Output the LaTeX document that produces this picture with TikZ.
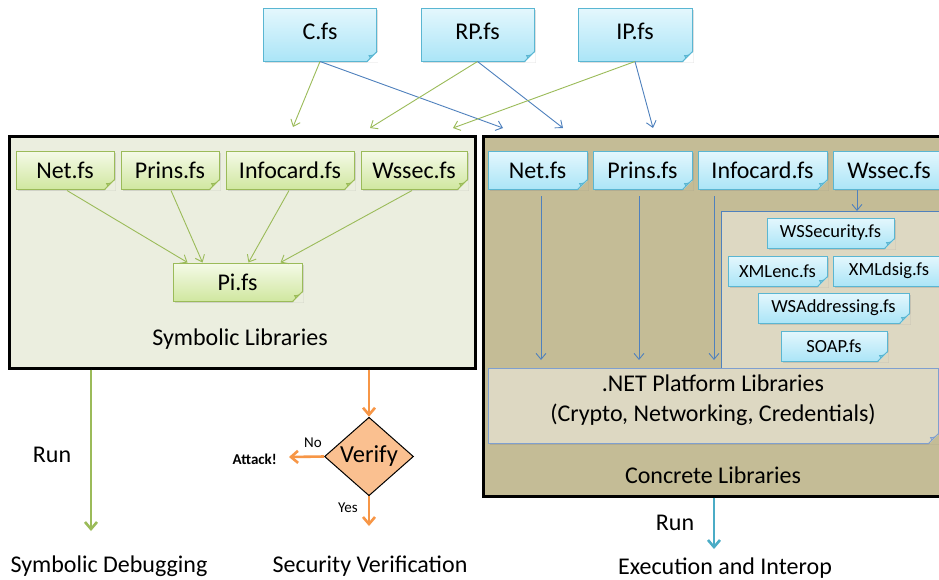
\documentclass[tikz,border=0pt]{standalone}
\usepackage{fontspec}
\setmainfont{Carlito}
\usetikzlibrary{shapes.geometric,arrows.meta,calc,shadows}
\definecolor{gline}{HTML}{9BBB59}
\definecolor{bline}{HTML}{4F81BD}
\definecolor{oline}{HTML}{F79646}
\definecolor{tline}{HTML}{4BACC6}
\definecolor{cyanborder}{HTML}{5AB6D2}
\definecolor{cyantop}{HTML}{E4F7FD}
\definecolor{cyanbot}{HTML}{ABE5F7}
\definecolor{cyanfold}{HTML}{7FC8DD}
\definecolor{greentop}{HTML}{F5FAE8}
\definecolor{greenbot}{HTML}{D0E7A0}
\definecolor{greenfold}{HTML}{ADCC6E}
\definecolor{lgreenbg}{HTML}{EBEEDF}
\definecolor{tanbg}{HTML}{C4BC96}
\definecolor{ltanbg}{HTML}{DDD8C2}
\definecolor{dnborder}{HTML}{7F9FCF}
\definecolor{difill}{HTML}{FAC090}
\newcommand\dogear[4]{%
  \fill[#2] ($(#1.south east)+(-10,1.2)$) -- ($(#1.south east)+(1.2,1.2)$) -- ($(#1.south east)+(1.2,-10)$) -- cycle;
  \filldraw[fill=#3,draw=#4,line width=0.8pt] ($(#1.south east)+(-10,0)$) -- ($(#1.south east)+(0,-10)$)
     .. controls ($(#1.south east)+(-4,-6)$) .. ($(#1.south east)+(-8,-6)$)
     .. controls ($(#1.south east)+(-6,-4)$) .. cycle;
}
\begin{document}
\begin{tikzpicture}[x=1pt,y=-1pt,
  txt/.style={font=\fontsize{24}{28}\selectfont, inner sep=0pt},
  tinytxt/.style={font=\fontsize{15}{17}\selectfont, inner sep=0pt},
  shadowed/.style={drop shadow={opacity=0.25,shadow xshift=1.5pt,shadow yshift=-1.5pt}},
  cyanbox/.style={draw=cyanborder, line width=1pt, top color=cyantop, bottom color=cyanbot,
     inner sep=0pt, shadowed, font=\fontsize{24}{28}\selectfont},
  topbox/.style={cyanbox, text depth=6pt},
  greenbox/.style={draw=gline, line width=1pt, top color=greentop, bottom color=greenbot,
     inner sep=0pt, shadowed, font=\fontsize{24}{28}\selectfont},
  wsbox/.style={cyanbox, font=\fontsize{18.5}{22}\selectfont},
  bigbox/.style={draw=black, line width=2.6pt, inner sep=0pt, anchor=north west},
  garrow/.style={draw=gline, line width=0.9pt, -{Straight Barb[length=6pt,width=10pt]}},
  barrow/.style={draw=bline, line width=0.9pt, -{Straight Barb[length=6pt,width=10pt]}},
  grun/.style={draw=gline, line width=2.6pt, -{Straight Barb[length=7pt,width=12pt,line width=2.6pt]}},
  orun/.style={draw=oline, line width=2.6pt, -{Straight Barb[length=7pt,width=12pt,line width=2.6pt]}},
  trun/.style={draw=tline, line width=2.6pt, -{Straight Barb[length=7pt,width=12pt,line width=2.6pt]}},
]
\clip (0,0) rectangle (939,579);
\fill[white] (0,0) rectangle (939,579);

% big containers
\node[bigbox, fill=lgreenbg, minimum width=466, minimum height=232] (symlib) at (8,135) {};
\node[bigbox, fill=tanbg, minimum width=480, minimum height=360] (conclib) at (482,135) {};
\node[draw=bline, line width=0.8pt, fill=ltanbg, anchor=north west, inner sep=0pt,
      minimum width=240, minimum height=165] (wspanel) at (721,211) {};

% top boxes
\node[topbox, minimum width=113, minimum height=53] (cfs) at (320,34.5) {C.fs};
\node[topbox, minimum width=113, minimum height=53] (rpfs) at (477.5,34.5) {RP.fs};
\node[topbox, minimum width=114, minimum height=53] (ipfs) at (635,34.5) {IP.fs};

% symbolic libraries
\node[greenbox, minimum width=98, minimum height=38] (gnet) at (65,170) {Net.fs};
\node[greenbox, minimum width=98, minimum height=38] (gprins) at (170,170) {Prins.fs};
\node[greenbox, minimum width=128, minimum height=38] (ginfo) at (290,170) {Infocard.fs};
\node[greenbox, minimum width=106, minimum height=38] (gwssec) at (414,170) {Wssec.fs};
\node[greenbox, minimum width=129, minimum height=38] (gpi) at (237.5,282) {Pi.fs};
\node[txt] (symlabel) at (240,339) {Symbolic Libraries};

% concrete libraries
\node[cyanbox, minimum width=99, minimum height=38] (rnet) at (537.5,170) {Net.fs};
\node[cyanbox, minimum width=99, minimum height=38] (rprins) at (642.5,170) {Prins.fs};
\node[cyanbox, minimum width=129, minimum height=38] (rinfo) at (762.5,170) {Infocard.fs};
\node[cyanbox, minimum width=112, minimum height=38] (rwssec) at (889,170) {Wssec.fs};

\node[wsbox, minimum width=127, minimum height=30] (wssecurity) at (830.5,233) {WSSecurity.fs};
\node[wsbox, minimum width=99, minimum height=30] (xmlenc) at (777.5,271) {XMLenc.fs};
\node[wsbox, minimum width=112, minimum height=30] (xmldsig) at (889,271) {XMLdsig.fs};
\node[wsbox, minimum width=151, minimum height=30] (wsaddr) at (833.5,308) {WSAddressing.fs};
\node[wsbox, minimum width=106, minimum height=30] (soap) at (834,346) {SOAP.fs};

\node[draw=dnborder, line width=1pt, fill=ltanbg, inner sep=0pt, shadowed,
      minimum width=450, minimum height=75] (dotnet) at (713,405.5) {};
\node[txt, align=center, font=\fontsize{24}{30}\selectfont] (dotnettxt) at (713,400)
      {.NET Platform Libraries\\(Crypto, Networking, Credentials)};
\node[txt] (conclabel) at (713,475) {Concrete Libraries};

% dog-ears
\dogear{cfs}{white}{cyanfold}{cyanborder}
\dogear{rpfs}{white}{cyanfold}{cyanborder}
\dogear{ipfs}{white}{cyanfold}{cyanborder}
\dogear{gnet}{lgreenbg}{greenfold}{gline}
\dogear{gprins}{lgreenbg}{greenfold}{gline}
\dogear{ginfo}{lgreenbg}{greenfold}{gline}
\dogear{gwssec}{lgreenbg}{greenfold}{gline}
\dogear{gpi}{lgreenbg}{greenfold}{gline}
\dogear{rnet}{tanbg}{cyanfold}{cyanborder}
\dogear{rprins}{tanbg}{cyanfold}{cyanborder}
\dogear{rinfo}{tanbg}{cyanfold}{cyanborder}
\dogear{wssecurity}{ltanbg}{cyanfold}{cyanborder}
\dogear{xmlenc}{ltanbg}{cyanfold}{cyanborder}
\dogear{wsaddr}{ltanbg}{cyanfold}{cyanborder}
\dogear{soap}{ltanbg}{cyanfold}{cyanborder}
\dogear{dotnet}{tanbg}{ltanbg!70!dnborder}{dnborder}

% top arrows
\coordinate (tg1) at (293,127);
\coordinate (tg2) at (370,128);
\coordinate (tg3) at (453,128);
\coordinate (tb1) at (503,128);
\coordinate (tb2) at (563,128);
\coordinate (tb3) at (653,128);
\draw[garrow] (cfs.south) -- (tg1);
\draw[barrow] (cfs.south) -- (tb1);
\draw[garrow] (rpfs.south) -- (tg2);
\draw[barrow] (rpfs.south) -- (tb2);
\draw[garrow] (ipfs.south) -- (tg3);
\draw[barrow] (ipfs.south) -- (tb3);

% symbolic arrows
\draw[garrow] ($(gnet.south)+(2,1)$) -- ($(gpi.north west)+(15,0)$);
\draw[garrow] ($(gprins.south)+(1,1)$) -- ($(gpi.north west)+(30,0)$);
\draw[garrow] ($(ginfo.south)+(-1,1)$) -- ($(gpi.north west)+(76,0)$);
\draw[garrow] ($(gwssec.south)+(-2,1)$) -- ($(gpi.north west)+(108,0)$);

% concrete arrows
\coordinate (a1s) at (541,196); \coordinate (a1e) at (541,360);
\coordinate (a2s) at (639,196); \coordinate (a2e) at (639,360);
\coordinate (a3s) at (714,196); \coordinate (a3e) at (714,360);
\coordinate (a4s) at (857,190);
\draw[barrow] (a1s) -- (a1e);
\draw[barrow] (a2s) -- (a2e);
\draw[barrow] (a3s) -- (a3e);
\draw[barrow] (a4s) -- (a4s |- wspanel.north);

% bottom flows
\coordinate (runL) at (91,531);
\draw[grun] (symlib.south -| runL) -- (runL);
\node[txt] (runLtxt) at (52,455) {Run};
\node[txt] (debug) at (109,566) {Symbolic Debugging};

\node[diamond, draw=black, line width=1pt, fill=difill, inner sep=0pt,
      minimum width=89, minimum height=71, font=\fontsize{24.5}{28}\selectfont] (verify) at (369,456.5) {Verify};
\draw[orun] (symlib.south -| verify) -- (verify.north);
\coordinate (noend) at (289,457);
\draw[orun] (verify.west) -- (noend);
\node[tinytxt, font=\bfseries\fontsize{15}{17}\selectfont, anchor=east] (attack) at (277,459) {Attack!};
\node[tinytxt] (notxt) at (313,443) {No};
\coordinate (yesend) at (369,526);
\draw[orun] (verify.south) -- (yesend);
\node[tinytxt] (yestxt) at (348,508) {Yes};
\node[txt] (secver) at (370,566) {Security Verification};

\coordinate (runR) at (714,549);
\draw[trun] (conclib.south -| runR) -- (runR);
\node[txt] (runRtxt) at (675,523) {Run};
\node[txt] (exec) at (725,568) {Execution and Interop};
\end{tikzpicture}
\end{document}
